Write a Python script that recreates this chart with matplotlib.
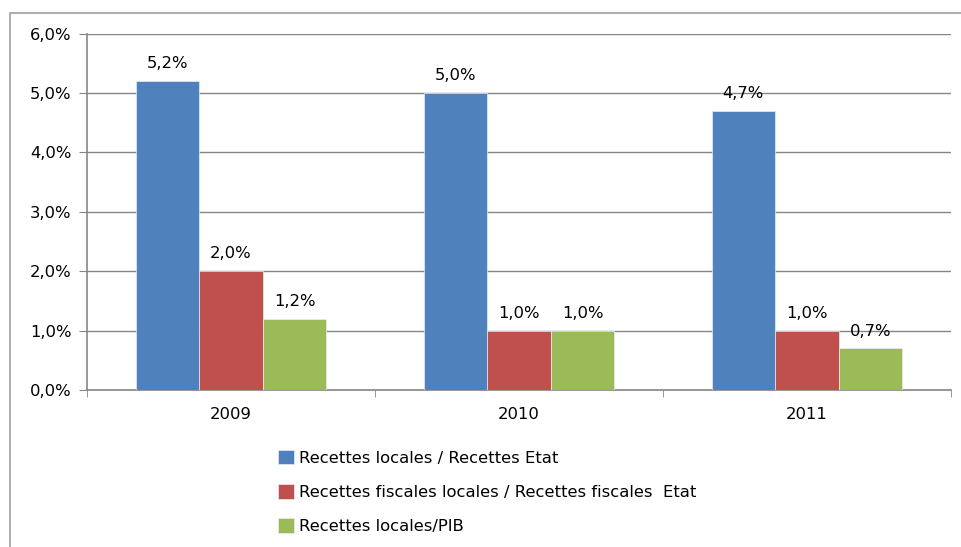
import matplotlib.pyplot as plt
import numpy as np
from matplotlib.patches import Rectangle

years = ["2009", "2010", "2011"]
series_names = [
    "Recettes locales / Recettes Etat",
    "Recettes fiscales locales / Recettes fiscales  Etat",
    "Recettes locales/PIB",
]
recettes_etat = [5.2, 5.0, 4.7]
recettes_fiscales = [2.0, 1.0, 1.0]
recettes_pib = [1.2, 1.0, 0.7]
colors = ["#4F81BD", "#C0504D", "#9BBB59"]

plt.rcParams["font.family"] = "DejaVu Sans"
FS = 11.8

W, H = 961, 547
fig = plt.figure(figsize=(W / 100, H / 100), dpi=100)
fig.patch.set_facecolor("white")

# outer chart frame
fig.patches.append(Rectangle((10 / W, -0.1), 1.2, (H - 13) / H + 0.1,
                             transform=fig.transFigure, fill=False,
                             edgecolor="#a0a0a0", linewidth=1.2))

ax = fig.add_axes([87 / W, 1 - 390 / H, (951 - 87) / W, (390 - 33.5) / H])

x = np.arange(len(years))
bw = 0.221
offsets = [-bw, 0, bw]
for vals, off, col, name in zip([recettes_etat, recettes_fiscales, recettes_pib],
                                offsets, colors, series_names):
    bars = ax.bar(x + off, vals, width=bw, color=col, edgecolor="#e8eef7",
                  linewidth=0.5, label=name, zorder=3)
    for b, v in zip(bars, vals):
        ax.annotate(f"{v:.1f}%".replace(".", ","),
                    (b.get_x() + b.get_width() / 2, v),
                    xytext=(0, 7), textcoords="offset points",
                    ha="center", va="bottom", fontsize=FS, zorder=4)

ax.set_xlim(-0.5, 2.5)
ax.set_ylim(0, 6)
ax.set_yticks(np.arange(0, 7, 1))
ax.set_yticklabels([f"{v:.1f}%".replace(".", ",") for v in range(7)], fontsize=FS)
ax.set_xticks(x)
ax.set_xticklabels(years, fontsize=FS)
ax.set_xticks([-0.5, 0.5, 1.5, 2.5], minor=True)
ax.tick_params(axis="x", which="major", length=0, pad=12)
ax.tick_params(axis="x", which="minor", length=5, color="#868686", direction="out")
ax.tick_params(axis="y", length=6, color="#868686", direction="out", pad=5)
ax.grid(axis="y", color="#868686", linewidth=1, zorder=0)

for side in ["top", "right"]:
    ax.spines[side].set_visible(False)
for side in ["left", "bottom"]:
    ax.spines[side].set_color("#868686")
    ax.spines[side].set_linewidth(1.2)

fig.legend(loc="upper left", bbox_to_anchor=(271 / W, 1 - 443 / H),
           frameon=False, fontsize=FS, handlelength=1.0, handleheight=1.0,
           handletextpad=0.3, labelspacing=1.12, borderaxespad=0)

fig.savefig("out.png", dpi=100)
